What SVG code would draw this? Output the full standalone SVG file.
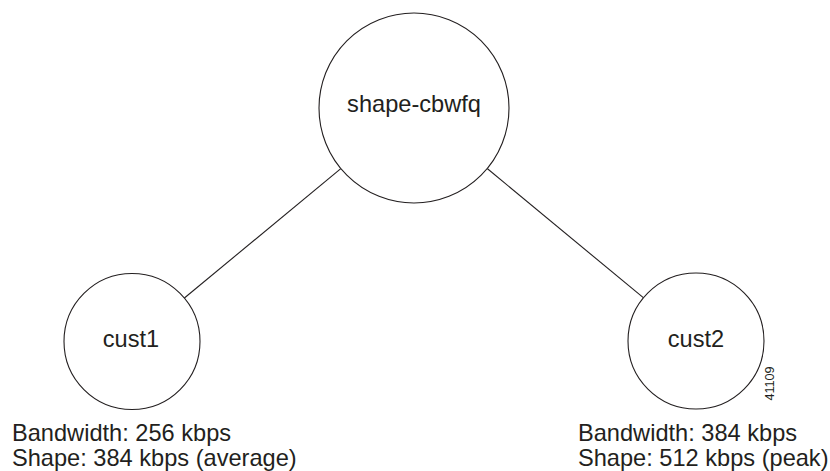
<svg xmlns="http://www.w3.org/2000/svg" width="830" height="471" viewBox="0 0 830 471">
<style>
.node{fill:#fff;stroke:#231f20;stroke-width:1.1}
.edge{stroke:#231f20;stroke-width:1.1;fill:none}
.lbl{font-family:"Liberation Sans",Arial,Helvetica,sans-serif;font-size:23.6px;fill:#231f20}
.mid{text-anchor:middle}
.fig{font-family:"Liberation Sans",Arial,Helvetica,sans-serif;font-size:12.6px;fill:#231f20}
</style>
<rect width="830" height="471" fill="#fff"/>
<g id="connectors">
<line class="edge" x1="340.8" y1="168.6" x2="184.4" y2="298"/>
<line class="edge" x1="487.2" y1="168.5" x2="643.3" y2="297.7"/>
</g>
<g id="shape-cbwfq">
<circle class="node" cx="414" cy="108" r="95"/>
<text class="lbl mid" x="414" y="111.5">shape-cbwfq</text>
</g>
<g id="cust1">
<circle class="node" cx="132" cy="341.5" r="68"/>
<text class="lbl mid" x="131" y="347">cust1</text>
<text class="lbl" x="12" y="441">Bandwidth: 256 kbps</text>
<text class="lbl" x="12" y="465.5">Shape: 384 kbps (average)</text>
</g>
<g id="cust2">
<circle class="node" cx="696" cy="341" r="68"/>
<text class="lbl mid" x="696" y="347">cust2</text>
<text class="lbl" x="578" y="441">Bandwidth: 384 kbps</text>
<text class="lbl" x="578" y="465.5">Shape: 512 kbps (peak)</text>
</g>
<text class="fig" transform="translate(774,400.5) rotate(-90)">41109</text>
</svg>
